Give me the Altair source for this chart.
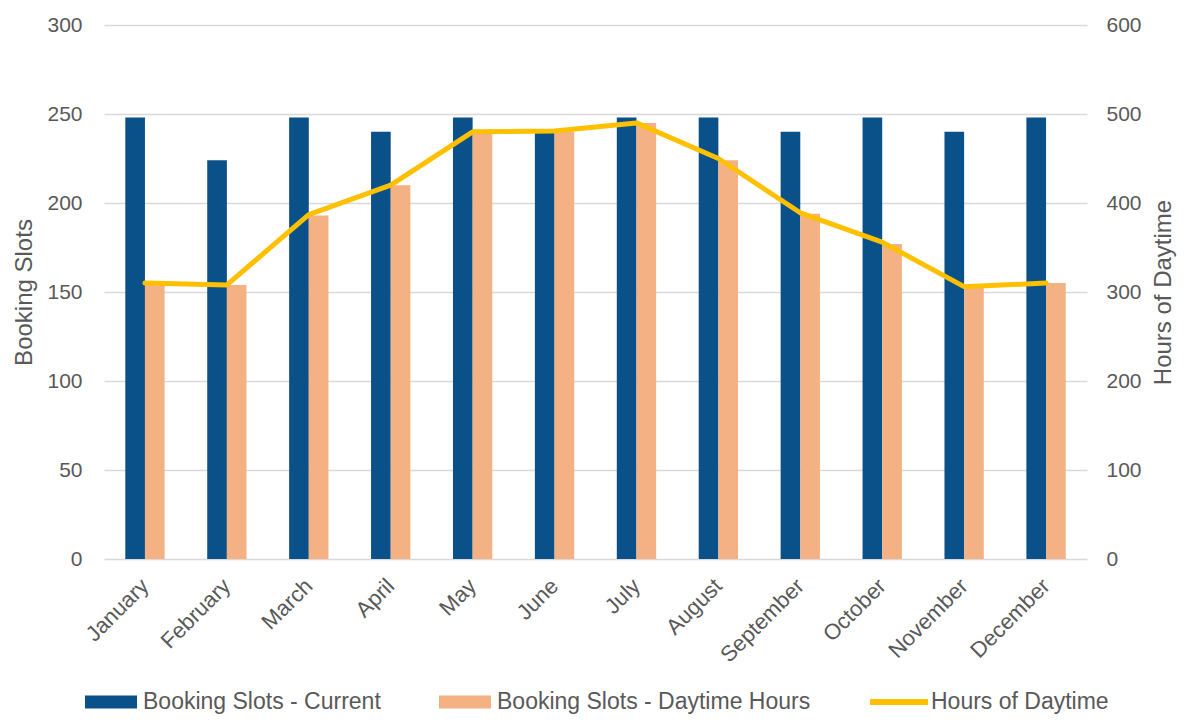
import altair as alt
import pandas as pd

months = ["January", "February", "March", "April", "May", "June",
          "July", "August", "September", "October", "November", "December"]
slots_current = [248, 224, 248, 240, 248, 240, 248, 248, 240, 248, 240, 248]
slots_daytime = [155, 154, 193, 210, 240, 240, 245, 224, 194, 177, 153, 155]
hours_daytime = [310, 308, 387, 420, 480, 481, 490, 450, 389, 356, 306, 310]

bar_series = ["Booking Slots - Current", "Booking Slots - Daytime Hours"]
line_series = ["Hours of Daytime"]
left_ticks = [0, 50, 100, 150, 200, 250, 300]
right_ticks = [0, 100, 200, 300, 400, 500, 600]

bars_df = pd.DataFrame({
    "Month": months * 2,
    "Series": [bar_series[0]] * 12 + [bar_series[1]] * 12,
    "Value": slots_current + slots_daytime,
})
line_df = pd.DataFrame({
    "Month": months,
    "Series": line_series * 12,
    "Value": hours_daytime,
})

GRAY = "#595959"
FONT = "Liberation Sans"

x_enc = alt.X(
    "Month:N", sort=months,
    scale=alt.Scale(domain=months, paddingInner=0.52, paddingOuter=0.26),
    axis=alt.Axis(title=None, labelAngle=-45, labelFontSize=22, labelColor=GRAY,
                  ticks=False, domain=False, grid=False, labelPadding=16,
                  labelOffset=-7, labelFont=FONT),
)

bars = alt.Chart(bars_df).mark_bar().encode(
    x=x_enc,
    xOffset=alt.XOffset("Series:N", sort=bar_series),
    y=alt.Y("Value:Q",
            scale=alt.Scale(domain=[0, 300], nice=False),
            axis=alt.Axis(title="Booking Slots", values=left_ticks, grid=True,
                          gridColor="#D9D9D9", gridWidth=1.5, ticks=False, domain=False,
                          labelFontSize=21, labelColor=GRAY, labelPadding=22,
                          titleFontSize=24, titleFontWeight="normal", titleColor=GRAY,
                          titlePadding=10, labelFont=FONT, titleFont=FONT)),
    color=alt.Color("Series:N",
                    scale=alt.Scale(domain=bar_series, range=["#0B5189", "#F4B183"]),
                    legend=alt.Legend(title=None, orient="none", direction="horizontal",
                                      legendX=-19, legendY=651,
                                      symbolType="M-1,-0.25L1,-0.25L1,0.25L-1,0.25Z",
                                      symbolSize=2704, symbolStrokeWidth=0,
                                      labelFontSize=23, labelColor=GRAY, labelFont=FONT,
                                      labelLimit=500, columnPadding=58, labelOffset=6)),
)

line = alt.Chart(line_df).mark_line(strokeWidth=5, strokeCap="round", strokeJoin="round").encode(
    x=x_enc,
    y=alt.Y("Value:Q",
            scale=alt.Scale(domain=[0, 600], nice=False),
            axis=alt.Axis(title="Hours of Daytime", orient="right", values=right_ticks,
                          grid=False, ticks=False, domain=False,
                          labelFontSize=21, labelColor=GRAY, labelPadding=19,
                          titleFontSize=24, titleFontWeight="normal", titleColor=GRAY,
                          titleAngle=270, titlePadding=34, labelFont=FONT, titleFont=FONT)),
    stroke=alt.Stroke("Series:N",
                      scale=alt.Scale(domain=line_series, range=["#FFC000"]),
                      legend=alt.Legend(title=None, orient="none", direction="horizontal",
                                        legendX=763, legendY=645,
                                        symbolType="stroke", symbolSize=3364,
                                        symbolStrokeWidth=6,
                                        labelFontSize=23, labelColor=GRAY, labelFont=FONT,
                                        labelLimit=500, labelOffset=0)),
)

chart = alt.layer(bars, line).resolve_scale(
    y="independent", color="independent", stroke="independent"
).properties(
    width=983, height=534,
    autosize=alt.AutoSizeParams(type="none"),
    padding={"left": 96, "top": 17, "right": 90, "bottom": 158},
).configure(
    font=FONT, background="white"
).configure_view(stroke=None)

chart.save("out.html", embed_options={"renderer": "svg", "actions": False})
